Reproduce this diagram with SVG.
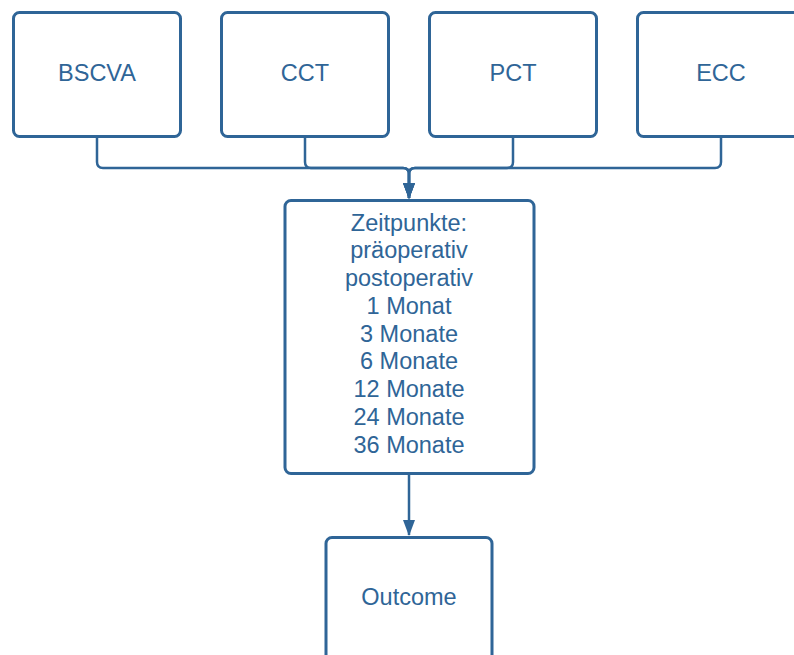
<svg xmlns="http://www.w3.org/2000/svg" width="794" height="655" viewBox="0 0 794 655">
<style>
.box{fill:#fff;stroke:#2f6597;stroke-width:3}
.t{font-family:"Liberation Sans",Arial,sans-serif;font-size:23.5px;fill:#2f6597;text-anchor:middle}
.c{fill:none;stroke:#2f6597;stroke-width:2.5}
</style>
<defs>
<marker id="ah" markerWidth="17" markerHeight="14" refX="15" refY="7" orient="auto" markerUnits="userSpaceOnUse">
<path d="M0,1 L16,7 L0,13 Z" fill="#2f6597"/>
</marker>
</defs>
<rect width="794" height="655" fill="#fff"/>
<g id="connectors">
<path class="c" d="M97 137 V162 Q97 168 103 168 H403 Q409 168 409 174 V198" marker-end="url(#ah)"/>
<path class="c" d="M305 137 V162 Q305 168 311 168 H403 Q409 168 409 174 V198" marker-end="url(#ah)"/>
<path class="c" d="M513 137 V162 Q513 168 507 168 H415 Q409 168 409 174 V198" marker-end="url(#ah)"/>
<path class="c" d="M721 137 V162 Q721 168 715 168 H415 Q409 168 409 174 V198" marker-end="url(#ah)"/>
<path class="c" d="M409 474 V535" marker-end="url(#ah)"/>
</g>
<g id="bscva">
<rect class="box" x="13.5" y="12.5" width="167" height="124" rx="6"/>
<text class="t" x="97" y="80.5">BSCVA</text>
</g>
<g id="cct">
<rect class="box" x="221.5" y="12.5" width="167" height="124" rx="6"/>
<text class="t" x="305" y="80.5">CCT</text>
</g>
<g id="pct">
<rect class="box" x="429.5" y="12.5" width="167" height="124" rx="6"/>
<text class="t" x="513" y="80.5">PCT</text>
</g>
<g id="ecc">
<rect class="box" x="637.5" y="12.5" width="167" height="124" rx="6"/>
<text class="t" x="721" y="80.5">ECC</text>
</g>
<g id="zeitpunkte">
<rect class="box" x="285" y="200.5" width="249" height="273" rx="6"/>
<text class="t" x="409" y="230.5">Zeitpunkte:</text>
<text class="t" x="409" y="258.2">präoperativ</text>
<text class="t" x="409" y="286">postoperativ</text>
<text class="t" x="409" y="313.7">1 Monat</text>
<text class="t" x="409" y="341.5">3 Monate</text>
<text class="t" x="409" y="369.2">6 Monate</text>
<text class="t" x="409" y="397">12 Monate</text>
<text class="t" x="409" y="424.7">24 Monate</text>
<text class="t" x="409" y="452.5">36 Monate</text>
</g>
<g id="outcome">
<rect class="box" x="326" y="537.5" width="166" height="130" rx="6"/>
<text class="t" x="409" y="605">Outcome</text>
</g>
</svg>
